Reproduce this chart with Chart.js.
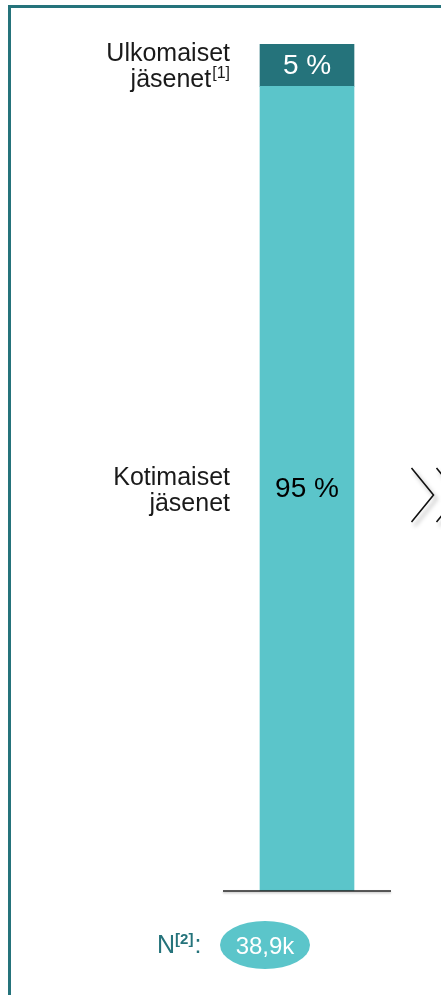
<!DOCTYPE html>
<html>
<head>
<meta charset="utf-8">
<script src="https://cdn.jsdelivr.net/npm/chart.js@4"></script>
<style>
  html, body { margin: 0; padding: 0; background: #ffffff; }
  #wrap { width: 441px; height: 995px; position: relative; }
</style>
</head>
<body>
<div id="wrap"><canvas id="c" width="441" height="995"></canvas></div>
<script>
// ---- data ----
const categories = ["Jäsenet"];
const domesticValues = [95];
const foreignValues = [5];
const domesticLabel = ["Kotimaiset", "jäsenet"];
const foreignLabel = ["Ulkomaiset", "jäsenet"];
const foreignNote = "[1]";
const valueSuffix = " %";
const nLabel = "N";
const nNote = "[2]";
const nValue = "38,9k";

// ---- styles ----
const DARK = "#25737b";
const LIGHT = "#5bc5ca";
const FONT = "'Liberation Sans', Arial, Helvetica, sans-serif";

const decorPlugin = {
  id: "decor",
  beforeDraw(chart) {
    const ctx = chart.ctx;
    ctx.save();
    ctx.fillStyle = "#ffffff";
    ctx.fillRect(0, 0, chart.width, chart.height);
    // frame
    ctx.fillStyle = DARK;
    ctx.fillRect(8, 5, 3, chart.height);
    ctx.fillRect(8, 5, chart.width, 3);
    ctx.restore();
  },
  afterDatasetsDraw(chart) {
    const ctx = chart.ctx;
    const area = chart.chartArea;
    const yScale = chart.scales.y;
    const y0 = yScale.getPixelForValue(0);
    ctx.save();
    // baseline
    ctx.shadowColor = "rgba(0,0,0,0.25)";
    ctx.shadowBlur = 2;
    ctx.shadowOffsetY = 1.5;
    ctx.strokeStyle = "#222222";
    ctx.lineWidth = 1.6;
    ctx.beginPath();
    ctx.moveTo(area.left, y0);
    ctx.lineTo(area.right, y0);
    ctx.stroke();
    ctx.restore();

    // value labels and category labels
    const labelsSets = [
      { lines: domesticLabel, note: "", color: "#000000", values: domesticValues },
      { lines: foreignLabel, note: foreignNote, color: "#ffffff", values: foreignValues }
    ];
    chart.data.datasets.forEach((ds, i) => {
      const meta = chart.getDatasetMeta(i);
      meta.data.forEach((bar, j) => {
        const cy = (bar.y + bar.base) / 2;
        const info = labelsSets[i];
        ctx.save();
        ctx.fillStyle = info.color;
        ctx.font = "28px " + FONT;
        ctx.textAlign = "center";
        ctx.textBaseline = "middle";
        ctx.fillText(info.values[j] + valueSuffix, bar.x, cy + 1);
        // side label
        const rightX = bar.x - bar.width / 2 - 30;
        const lh = 26;
        ctx.fillStyle = "#1a1a1a";
        ctx.textBaseline = "alphabetic";
        ctx.textAlign = "right";
        const base1 = cy - 4;
        const base2 = base1 + lh;
        ctx.font = "25px " + FONT;
        ctx.fillText(info.lines[0], rightX, base1);
        if (info.note) {
          ctx.font = "16px " + FONT;
          const nw = ctx.measureText(info.note).width;
          ctx.fillText(info.note, rightX, base2 - 9);
          ctx.font = "25px " + FONT;
          ctx.fillText(info.lines[1], rightX - nw - 1, base2);
        } else {
          ctx.fillText(info.lines[1], rightX, base2);
        }
        ctx.restore();
      });
    });

    // N label and ellipse
    ctx.save();
    const ey = 945, ex = 265;
    ctx.fillStyle = LIGHT;
    ctx.beginPath();
    ctx.ellipse(ex, ey, 45, 24, 0, 0, Math.PI * 2);
    ctx.fill();
    ctx.fillStyle = "#ffffff";
    ctx.font = "24px " + FONT;
    ctx.textAlign = "center";
    ctx.textBaseline = "alphabetic";
    ctx.fillText(nValue, ex, ey + 9);
    ctx.fillStyle = DARK;
    ctx.textAlign = "left";
    let x = 157;
    ctx.font = "25px " + FONT;
    ctx.fillText(nLabel, x, ey + 8);
    x += ctx.measureText(nLabel).width;
    ctx.font = "bold 15px " + FONT;
    ctx.fillText(nNote, x, ey - 1);
    x += ctx.measureText(nNote).width + 1;
    ctx.font = "25px " + FONT;
    ctx.fillText(":", x, ey + 8);
    ctx.restore();

    // chevrons
    ctx.save();
    ctx.shadowColor = "rgba(0,0,0,0.35)";
    ctx.shadowBlur = 4;
    ctx.shadowOffsetX = 3;
    ctx.shadowOffsetY = 4;
    ctx.strokeStyle = "#111111";
    ctx.lineWidth = 1.6;
    [411.5, 436.5].forEach(cx => {
      ctx.beginPath();
      ctx.moveTo(cx, 468);
      ctx.lineTo(cx + 22, 495);
      ctx.lineTo(cx, 522);
      ctx.stroke();
    });
    ctx.restore();
  }
};

new Chart(document.getElementById("c"), {
  type: "bar",
  data: {
    labels: categories,
    datasets: [
      { label: domesticLabel.join(" "), data: domesticValues, backgroundColor: LIGHT, borderWidth: 0, barThickness: 94 },
      { label: foreignLabel.join(" "), data: foreignValues, backgroundColor: DARK, borderWidth: 0, barThickness: 94 }
    ]
  },
  options: {
    responsive: false,
    devicePixelRatio: 1,
    animation: false,
    layout: { padding: { left: 223, right: 50, top: 44, bottom: 104 } },
    scales: {
      x: { stacked: true, display: false },
      y: { stacked: true, display: false, min: 0, max: 100 }
    },
    plugins: { legend: { display: false }, tooltip: { enabled: false } }
  },
  plugins: [decorPlugin]
});
</script>
</body>
</html>
